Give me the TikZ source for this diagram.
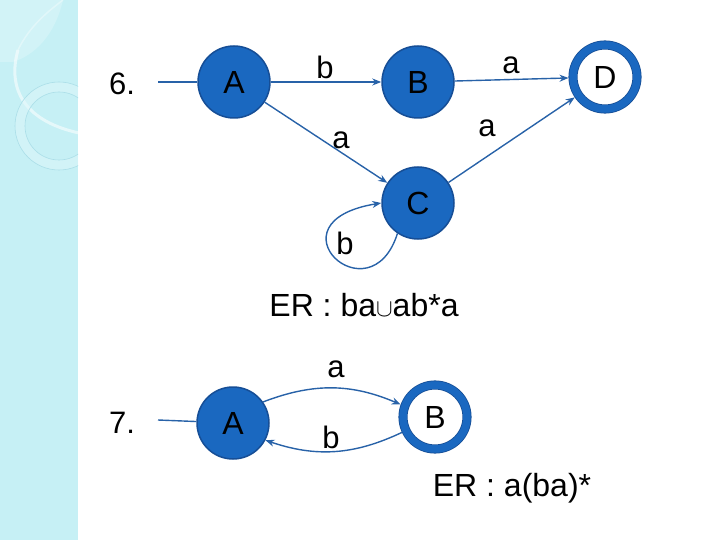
\documentclass[tikz,border=0pt]{standalone}
\usepackage{fontspec}
\setmainfont{Liberation Sans}
\usetikzlibrary{arrows.meta}
\definecolor{stripcyan}{RGB}{198,240,245}
\definecolor{stripdark}{RGB}{170,222,232}
\definecolor{stripwhite}{RGB}{222,247,250}
\definecolor{statefill}{RGB}{26,104,192}
\definecolor{stateedge}{RGB}{22,78,150}
\definecolor{edgeblue}{RGB}{40,98,168}
\tikzset{
  state/.style={circle, fill=statefill, draw=stateedge, line width=1.5pt,
    minimum size=72pt, inner sep=0pt, font=\fontsize{32}{34}\selectfont},
  final/.style={circle, fill=white, draw=stateedge, line width=0.8pt,
    double=statefill, double distance=7.5pt, minimum size=64pt, inner sep=0pt,
    outer sep=4.5pt, font=\fontsize{32}{34}\selectfont},
  trans/.style={draw=edgeblue, line width=1.4pt, -{Stealth[length=9pt,width=7pt]}},
  initline/.style={draw=edgeblue, line width=1.4pt},
  lbl/.style={font=\fontsize{31}{33}\selectfont, inner sep=0pt},
  num/.style={font=\fontsize{31}{33}\selectfont, inner sep=0pt},
  ertext/.style={font=\fontsize{32}{34}\selectfont, inner sep=0pt}
}
\begin{document}
\begin{tikzpicture}[x=1pt, y=-1pt]
\useasboundingbox (0,0) rectangle (720,540);
% decorative strip
\fill[stripcyan] (0,0) rectangle (78,540);
\begin{scope}
\clip (0,0) rectangle (78,540);
\fill[stripwhite, opacity=0.5] (0,0) -- (63,0) .. controls (55,35) and (35,55) .. (13,62) -- (0,62) -- cycle;
\draw[white, line width=3pt, opacity=0.55] (18,50) .. controls (8,85) and (20,120) .. (79,133);
\draw[white, line width=1.5pt, opacity=0.35] (18,50) .. controls (30,25) and (50,10) .. (63,0);
\fill[stripwhite, opacity=0.5, even odd rule] (59,126) circle (44) (59,126) circle (34);
\draw[stripdark, line width=0.6pt] (59,126) circle (44);
\draw[stripdark, line width=0.6pt] (59,126) circle (34);
\end{scope}

% ---------- problem 6 ----------
\node[num] (n6) at (122,84) {6.};
\coordinate (s1) at (158,82);
\node[state] (A1) at (234,82) {A};
\node[state] (B1) at (418,82) {B};
\node[state] (C1) at (418,203) {C};
\node[final] (D1) at (605,77) {D};
\draw[initline] (s1) -- (A1);
\draw[trans] (A1) -- (B1);
\draw[trans] (B1) -- (D1);
\draw[trans] (A1) -- (C1);
\draw[trans] (C1) -- (D1);
\draw[trans] (C1.236) .. controls (370,320) and (265,222) .. (C1.180);
\node[lbl] (lb1) at (325,67) {b};
\node[lbl] (la1) at (511,65) {a};
\node[lbl] (la2) at (341,140) {a};
\node[lbl] (la3) at (487,128) {a};
\node[lbl] (lb2) at (345,243) {b};
\node[ertext] (er1) at (364,305) {ER : ba\raisebox{0pt}{\fontsize{24}{24}\selectfont$\cup$}ab*a};

% ---------- problem 7 ----------
\node[num] (n7) at (122,423) {7.};
\coordinate (s2) at (158,420);
\node[state] (A2) at (233,423) {A};
\node[final] (B2) at (435,417) {B};
\draw[initline] (s2) -- (A2);
\draw[trans] (A2.35) to[bend left=22] (B2.160);
\draw[trans] (B2.205) to[bend left=22] (A2.-28);
\node[lbl] (la4) at (336,369) {a};
\node[lbl] (lb4) at (331,437) {b};
\node[ertext] (er2) at (512,488) {ER : a(ba)*};
\end{tikzpicture}
\end{document}
